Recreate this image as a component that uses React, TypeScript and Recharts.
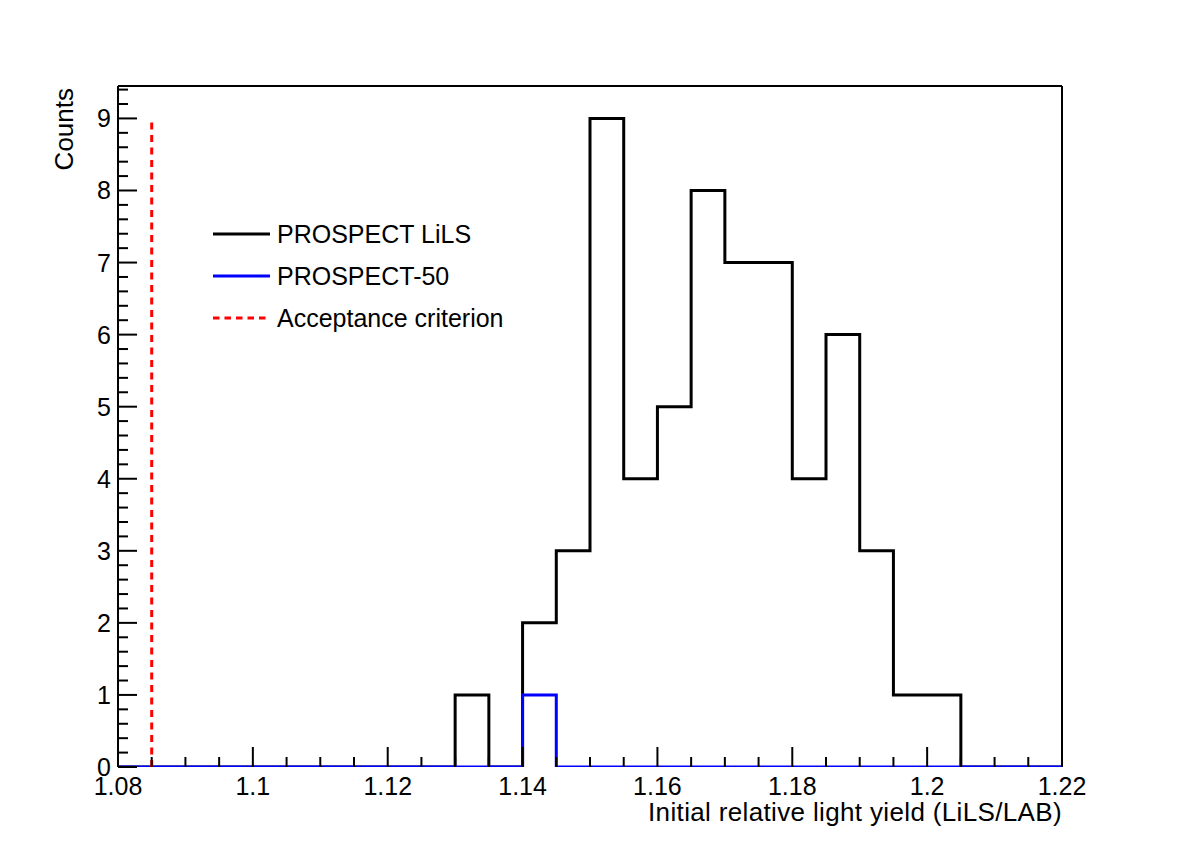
import React from 'react';
import { ComposedChart, Line, XAxis, YAxis, ReferenceLine, Customized } from 'recharts';

// Bin edges of the histogram (LiLS/LAB)
const binEdges = [
  1.08, 1.085, 1.09, 1.095, 1.1, 1.105, 1.11, 1.115, 1.12, 1.125,
  1.13, 1.135, 1.14, 1.145, 1.15, 1.155, 1.16, 1.165, 1.17, 1.175,
  1.18, 1.185, 1.19, 1.195, 1.2, 1.205, 1.21, 1.215, 1.22,
];
// Counts per bin (28 bins)
const lilsCounts = [0, 0, 0, 0, 0, 0, 0, 0, 0, 0, 1, 0, 2, 3, 9, 4, 5, 8, 7, 7, 4, 6, 3, 1, 1, 0, 0, 0];
const p50Counts = [0, 0, 0, 0, 0, 0, 0, 0, 0, 0, 0, 0, 1, 0, 0, 0, 0, 0, 0, 0, 0, 0, 0, 0, 0, 0, 0, 0];

const acceptanceX = 1.085;
const acceptanceTop = 9;

const xMajorTicks = [1.08, 1.1, 1.12, 1.14, 1.16, 1.18, 1.2, 1.22];
const xMajorLabels = ['1.08', '1.1', '1.12', '1.14', '1.16', '1.18', '1.2', '1.22'];
const yMajorTicks = [0, 1, 2, 3, 4, 5, 6, 7, 8, 9];
const yMajorLabels = ['0', '1', '2', '3', '4', '5', '6', '7', '8', '9'];

const legendNames = ['PROSPECT LiLS', 'PROSPECT-50', 'Acceptance criterion'];
const legendColors = ['#000000', '#0000ff', '#ff0000'];

const xLabel = 'Initial relative light yield (LiLS/LAB)';
const yLabel = 'Counts';

const FONT = '"Liberation Sans", Arial, Helvetica, sans-serif';
const FS = 25;
const TFS = 26;

// table for step lines: last edge repeats last bin value
const data = binEdges.map((e, i) => ({
  x: e,
  lils: lilsCounts[Math.min(i, lilsCounts.length - 1)],
  p50: p50Counts[Math.min(i, p50Counts.length - 1)],
}));

// minor tick positions (axis decoration)
const xTicksAll: number[] = [];
for (let i = 0; i <= 28; i++) xTicksAll.push(Math.round((1.08 + i * 0.005) * 1000) / 1000);
const yTicksAll: number[] = [];
for (let i = 0; i <= 47; i++) yTicksAll.push(Math.round(i * 0.2 * 10) / 10);

const XTick = (props: any) => {
  const { x, payload } = props;
  const v = payload.value;
  const idx = xMajorTicks.findIndex((m) => Math.abs(m - v) < 1e-6);
  const major = idx >= 0;
  return (
    <g>
      <line x1={x} x2={x} y1={767} y2={767 - (major ? 20 : 10)} stroke="#000" strokeWidth={2} />
      {major && (
        <text x={x} y={795} textAnchor="middle" fontFamily={FONT} fontSize={FS} fill="#000">
          {xMajorLabels[idx]}
        </text>
      )}
    </g>
  );
};

const YTick = (props: any) => {
  const { y, payload } = props;
  const v = payload.value;
  const idx = yMajorTicks.findIndex((m) => Math.abs(m - v) < 1e-6);
  const major = idx >= 0;
  return (
    <g>
      <line x1={118} x2={118 + (major ? 19 : 10)} y1={y} y2={y} stroke="#000" strokeWidth={2} />
      {major && (
        <text x={111} y={y + 9} textAnchor="end" fontFamily={FONT} fontSize={FS} fill="#000">
          {yMajorLabels[idx]}
        </text>
      )}
    </g>
  );
};

const Decorations = () => (
  <g>
    {legendNames.map((name, i) => {
      const y = 234 + i * 42;
      return (
        <g key={name}>
          <line
            x1={i === 2 ? 213 : 213}
            x2={i === 2 ? 270 : 270}
            y1={y}
            y2={y}
            stroke={legendColors[i]}
            strokeWidth={3}
            strokeDasharray={i === 2 ? '6.5 5' : undefined}
          />
          <text x={277} y={y + 9} fontFamily={FONT} fontSize={FS} fill="#000">
            {name}
          </text>
        </g>
      );
    })}
    <text
      x={1062}
      y={821}
      textAnchor="end"
      fontFamily={FONT}
      fontSize={TFS}
      letterSpacing={0.35}
      fill="#000"
    >
      {xLabel}
    </text>
    <text
      x={73}
      y={88}
      textAnchor="end"
      transform="rotate(-90 73 88)"
      fontFamily={FONT}
      fontSize={TFS}
      fill="#000"
    >
      {yLabel}
    </text>
  </g>
);

export default function App() {
  return (
    <div style={{ position: 'absolute', left: 0, top: 0, width: 1182, height: 853, background: '#fff' }}>
      <ComposedChart
        width={1182}
        height={853}
        data={data}
        margin={{ top: 85, right: 119, bottom: 0, left: 0 }}
      >
        <XAxis
          dataKey="x"
          type="number"
          domain={[1.08, 1.22]}
          ticks={xTicksAll}
          interval={0}
          height={86}
          tickSize={0}
          tickMargin={0}
          tickLine={false}
          tick={<XTick />}
          axisLine={false}
          allowDataOverflow
        />
        <XAxis
          xAxisId="top"
          orientation="top"
          dataKey="x"
          type="number"
          domain={[1.08, 1.22]}
          height={1}
          tick={false}
          tickLine={false}
          axisLine={{ stroke: '#000', strokeWidth: 2 }}
        />
        <YAxis
          type="number"
          domain={[0, 9.45]}
          ticks={yTicksAll.filter((t) => t <= 9.4)}
          interval={0}
          width={118}
          tickSize={0}
          tickMargin={0}
          tickLine={false}
          tick={<YTick />}
          axisLine={{ stroke: '#000', strokeWidth: 2 }}
          allowDataOverflow
        />
        <YAxis
          yAxisId="right"
          orientation="right"
          type="number"
          domain={[0, 9.45]}
          width={1}
          tick={false}
          tickLine={false}
          axisLine={{ stroke: '#000', strokeWidth: 2 }}
        />
        <Line
          type="stepAfter"
          dataKey="lils"
          stroke="#000"
          strokeWidth={3}
          dot={false}
          activeDot={false}
          isAnimationActive={false}
          strokeLinejoin="miter"
        />
        <Line
          type="stepAfter"
          dataKey="p50"
          stroke="#0000ff"
          strokeWidth={3}
          dot={false}
          activeDot={false}
          isAnimationActive={false}
          strokeLinejoin="miter"
        />
        <ReferenceLine
          segment={[
            { x: acceptanceX, y: 0 },
            { x: acceptanceX, y: acceptanceTop },
          ]}
          stroke="#ff0000"
          strokeWidth={3}
          strokeDasharray="7 5.5"
        />
        <Customized component={Decorations} />
      </ComposedChart>
    </div>
  );
}
